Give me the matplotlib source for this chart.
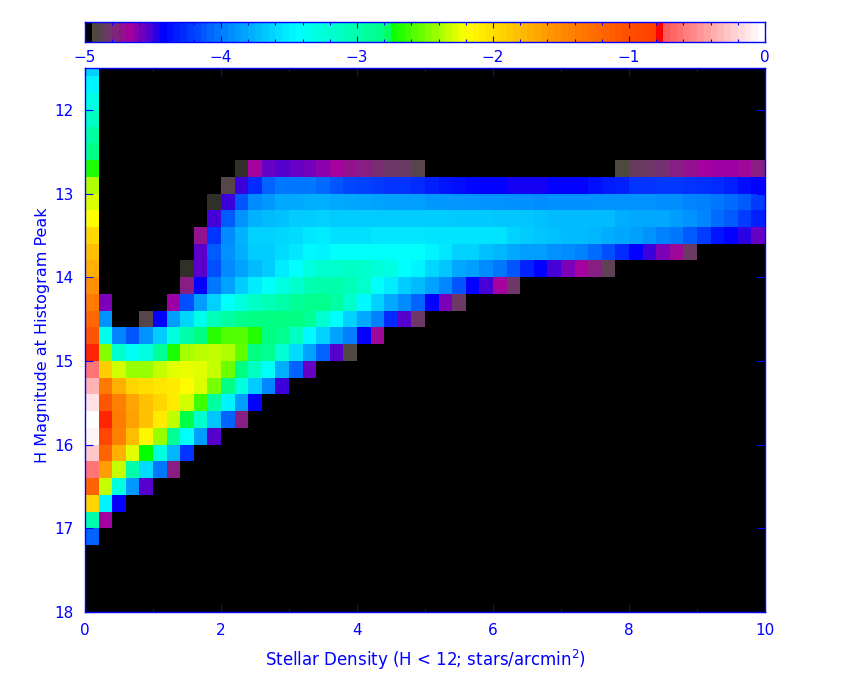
import matplotlib
matplotlib.use('Agg')
import matplotlib.pyplot as plt
from matplotlib.colors import LinearSegmentedColormap
from matplotlib.ticker import MultipleLocator
import numpy as np

BLUE = '#0000ff'
E = -5.0  # empty cell, shows black

# left edge of each row in H magnitude, top row is clipped by the axis
row_tops = [11.4, 11.6, 11.8, 12.0, 12.2, 12.4, 12.6, 12.8, 13.0, 13.2,
            13.4, 13.6, 13.8, 14.0, 14.2, 14.4, 14.6, 14.8, 15.0, 15.2,
            15.4, 15.6, 15.8, 16.0, 16.2, 16.4, 16.6, 16.8, 17.0]

# first density column, density < 0.2
first_col = [-3.65, -3.5, -3.3, -3.12, -2.95, -2.8, -2.7, -2.37, -2.28, -2.2,
             -1.97, -1.82, -1.72, -1.53, -1.37, -1.2, -1.03, -0.79, -0.6, -0.33,
             -0.13, 0.0, -0.05, -0.24, -0.6, -1.15, -1.95, -3.0, -4.1]

# log fraction per cell, one list per magnitude row starting at column 1
row_126 = [E]*10 + [-4.99, -4.7, -4.58, -4.55, -4.58, -4.6, -4.65, -4.7, -4.75, -4.78,
                    -4.82, -4.85, -4.86, -4.93] + [E]*14 + [-4.96, -4.87, -4.85, -4.83,
                    -4.78, -4.75, -4.7, -4.68, -4.68, -4.72, -4.78]
row_128 = [E]*9 + [-4.93, -4.52, -4.3, -4.1, -4.03, -4.03, -4.03, -4.08, -4.15, -4.2,
                   -4.22, -4.24, -4.27, -4.27, -4.3, -4.34, -4.38, -4.4, -4.43, -4.45,
                   -4.45, -4.47, -4.47, -4.47, -4.45, -4.45, -4.45, -4.4, -4.36, -4.34,
                   -4.27, -4.27, -4.25, -4.25, -4.27, -4.28, -4.3, -4.34, -4.4, -4.45]
row_130 = [E]*8 + [-4.99, -4.52, -4.15, -3.95, -3.9, -3.82, -3.82, -3.8, -3.8, -3.82,
                   -3.83, -3.84, -3.85, -3.86, -3.87, -3.87, -3.9, -3.9, -3.91, -3.91,
                   -3.92, -3.92, -3.93, -3.93, -3.95, -3.93, -3.93, -3.93, -3.92, -3.92,
                   -3.92, -3.92, -3.92, -3.94, -3.94, -3.98, -4.0, -4.03, -4.07, -4.13,
                   -4.24]
row_132 = [E]*8 + [-4.53, -4.13, -3.92, -3.78, -3.74, -3.72, -3.67, -3.67, -3.65, -3.67,
                   -3.67, -3.67, -3.67, -3.67, -3.67, -3.67, -3.67, -3.67, -3.68, -3.68,
                   -3.68, -3.69, -3.69, -3.7, -3.72, -3.74, -3.74, -3.74, -3.74, -3.74,
                   -3.8, -3.82, -3.82, -3.82, -3.88, -3.92, -3.98, -4.07, -4.13, -4.24,
                   -4.34]
row_134 = [E]*7 + [-4.75, -4.27, -3.95, -3.78, -3.65, -3.65, -3.62, -3.6, -3.55, -3.53,
                   -3.58, -3.58, -3.58, -3.55, -3.55, -3.55, -3.55, -3.56, -3.56, -3.56,
                   -3.56, -3.56, -3.56, -3.64, -3.67, -3.7, -3.72, -3.74, -3.74, -3.76,
                   -3.8, -3.83, -3.86, -3.92, -3.99, -4.03, -4.13, -4.24, -4.38, -4.45,
                   -4.5, -4.58, -4.65]
row_136 = [E]*7 + [-4.56, -4.13, -3.92, -3.8, -3.67, -3.67, -3.6, -3.55, -3.48, -3.5,
                   -3.44, -3.42, -3.42, -3.42, -3.42, -3.42, -3.42, -3.5, -3.55, -3.65,
                   -3.65, -3.72, -3.76, -3.82, -3.87, -3.87, -3.92, -3.95, -3.99, -4.07,
                   -4.17, -4.3, -4.45, -4.52, -4.62, -4.72, -4.86]
row_138 = [E]*6 + [-4.99, -4.56, -4.17, -3.95, -3.85, -3.74, -3.67, -3.53, -3.44, -3.29,
                   -3.2, -3.18, -3.15, -3.18, -3.25, -3.3, -3.45, -3.5, -3.62, -3.7,
                   -3.82, -3.87, -3.95, -4.03, -4.15, -4.33, -4.45, -4.53, -4.62, -4.7,
                   -4.78, -4.9]
row_140 = [E]*6 + [-4.78, -4.45, -4.03, -3.85, -3.67, -3.53, -3.43, -3.3, -3.18, -3.05,
                   -3.0, -3.0, -3.08, -3.18, -3.42, -3.53, -3.67, -3.74, -3.85, -3.97,
                   -4.15, -4.45, -4.53, -4.7, -4.85]
row_142 = [-4.62] + [E]*4 + [-4.68, -4.17, -3.87, -3.65, -3.44, -3.28, -3.15, -3.07, -3.0,
                             -2.9, -2.85, -2.85, -2.95, -3.18, -3.47, -3.65, -3.82, -3.95,
                             -4.1, -4.45, -4.62, -4.86]
row_144 = [-3.92] + [E]*2 + [-4.93, -4.45, -3.87, -3.62, -3.34, -3.08, -2.95, -2.85, -2.8,
                             -2.78, -2.78, -2.8, -2.9, -3.2, -3.44, -3.65, -3.82, -3.99,
                             -4.3, -4.55, -4.85]
row_146 = [-3.34, -3.98, -4.15, -3.92, -3.67, -3.29, -3.0, -2.78, -2.67, -2.58, -2.57,
           -2.69, -2.78, -2.85, -3.12, -3.47, -3.65, -3.85, -4.0, -4.45, -4.72]
row_148 = [-2.47, -3.18, -3.38, -3.29, -2.9, -2.7, -2.39, -2.35, -2.34, -2.38, -2.55,
           -2.78, -2.88, -3.22, -3.6, -3.85, -4.1, -4.55, -4.95]
row_150 = [-1.9, -2.3, -2.43, -2.43, -2.33, -2.27, -2.25, -2.27, -2.33, -2.52, -2.78,
           -3.12, -3.42, -3.8, -4.1, -4.58]
row_152 = [-1.35, -1.72, -1.95, -2.0, -2.05, -2.08, -2.18, -2.28, -2.5, -2.8, -3.28,
           -3.67, -3.97, -4.52]
row_154 = [-1.05, -1.4, -1.65, -1.83, -1.95, -2.08, -2.3, -2.62, -2.95, -3.5, -3.87, -4.45]
row_156 = [-0.79, -1.37, -1.63, -1.83, -2.08, -2.34, -2.77, -3.18, -3.7, -4.1, -4.78]
row_158 = [-0.85, -1.4, -1.8, -2.15, -2.43, -2.9, -3.42, -3.87, -4.55]
row_160 = [-1.17, -1.72, -2.27, -2.75, -3.28, -3.76, -4.27]
row_162 = [-1.6, -2.33, -3.0, -3.6, -4.03, -4.78]
row_164 = [-2.33, -3.29, -3.9, -4.55]
row_166 = [-3.5, -4.45]
row_168 = [-4.7]

rest_of_rows = [[], [], [], [], [], [], row_126, row_128, row_130, row_132,
                row_134, row_136, row_138, row_140, row_142, row_144, row_146, row_148,
                row_150, row_152, row_154, row_156, row_158, row_160, row_162, row_164,
                row_166, row_168, []]

ncol = 50
grid = np.full((len(row_tops), ncol), E)
for i, vals in enumerate(rest_of_rows):
    grid[i, 0] = first_col[i]
    grid[i, 1:1 + len(vals)] = vals[:ncol - 1]

# colour table
stops = [(-5.0, (0, 0, 0)), (-4.995, (42, 40, 35)), (-4.97, (75, 75, 60)),
         (-4.85, (110, 55, 105)), (-4.7, (165, 0, 160)), (-4.55, (85, 0, 205)),
         (-4.45, (0, 0, 255)), (-4.0, (0, 128, 255)), (-3.45, (0, 255, 255)),
         (-2.78, (0, 255, 128)), (-2.76, (0, 255, 0)), (-2.2, (255, 255, 0)),
         (-1.5, (255, 140, 0)), (-1.0, (255, 80, 0)), (-0.8, (255, 65, 0)),
         (-0.77, (255, 0, 0)), (-0.74, (255, 0, 0)), (-0.73, (255, 85, 85)),
         (0.0, (255, 255, 255))]
cmap = LinearSegmentedColormap.from_list(
    'wedge', [((v + 5) / 5, tuple(c / 255 for c in rgb)) for v, rgb in stops], N=1024)

plt.rcParams['font.family'] = 'DejaVu Sans'
plt.rcParams['font.size'] = 11

fig = plt.figure(figsize=(8.5, 6.8), dpi=100)
W, H = 850.0, 680.0

ax = fig.add_axes([85 / W, 1 - 612 / H, 680 / W, 544 / H])
ax.set_facecolor('black')
xedges = np.arange(ncol + 1) * 0.2
yedges = np.array(row_tops + [row_tops[-1] + 0.2])
ax.pcolormesh(xedges, yedges, grid, cmap=cmap, vmin=-5, vmax=0, antialiased=False)
ax.set_xlim(0, 10)
ax.set_ylim(18, 11.5)
ax.xaxis.set_major_locator(MultipleLocator(2))
ax.xaxis.set_minor_locator(MultipleLocator(1))
ax.yaxis.set_major_locator(MultipleLocator(1))
ax.tick_params(which='major', direction='in', top=True, right=True, length=6, width=0.8,
               color=BLUE, labelcolor=BLUE, pad=8)
ax.tick_params(which='minor', direction='in', top=True, right=True, length=3, width=0.8,
               color=BLUE)
ax.set_xlabel('Stellar Density (H < 12; stars/arcmin$^2$)', color=BLUE, fontsize=12, labelpad=7)
ax.set_ylabel('H Magnitude at Histogram Peak', color=BLUE, fontsize=11.5, va='center')
ax.yaxis.set_label_coords(-0.062, 0.509)
for s in ax.spines.values():
    s.set_color(BLUE)
    s.set_linewidth(1.0)

# wedge on top
cax = fig.add_axes([85 / W, 1 - 42 / H, 680 / W, 20 / H])
wedge = np.linspace(-5, 0, 100).reshape(1, -1)
cax.imshow(wedge, extent=[-5, 0, 0, 1], aspect='auto', cmap=cmap, vmin=-5, vmax=0,
           interpolation='nearest')
cax.set_yticks([])
cax.xaxis.set_major_locator(MultipleLocator(1))
cax.xaxis.set_minor_locator(MultipleLocator(0.2))
cax.tick_params(which='major', direction='in', top=True, length=4.5, width=0.8,
                color=BLUE, labelcolor=BLUE, pad=6)
cax.tick_params(which='minor', direction='in', top=True, length=2.2, width=0.8, color=BLUE)
for s in cax.spines.values():
    s.set_color(BLUE)
    s.set_linewidth(1.0)

fig.savefig('out.png', dpi=100, facecolor='white')
